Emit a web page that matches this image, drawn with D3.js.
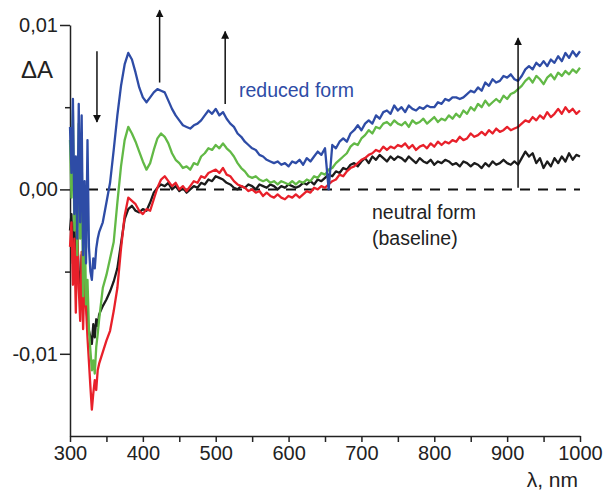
<!DOCTYPE html>
<html>
<head>
<meta charset="utf-8">
<script src="https://cdn.jsdelivr.net/npm/d3@7"></script>
<style>
  body { margin: 0; background: #fff; }
  svg { font-family: "Liberation Sans", Arial, sans-serif; }
</style>
</head>
<body>
<div id="chart"></div>
<script>
// wavelengths (nm)
var wl = [300,302,304,306,308,310,312,314,316,318,320,322,324,326,328,330,332,334,336,338,340,
  345,350,355,360,365,370,375,380,385,390,395,400,405,410,415,420,425,430,435,440,445,450,455,460,465,470,475,480,485,490,495,
  500,505,510,515,520,525,530,535,540,545,550,555,560,565,570,575,580,585,590,595,
  600,605,610,615,620,625,630,635,640,645,650,655,660,665,670,675,680,685,690,695,
  700,705,710,715,720,725,730,735,740,745,750,755,760,765,770,775,780,785,790,795,
  800,805,810,815,820,825,830,835,840,845,850,855,860,865,870,875,880,885,890,895,
  900,905,910,915,920,925,930,935,940,945,950,955,960,965,970,975,980,985,990,995,1000]

// delta A, units of 1e-3
var neutral = [-2.5,-1.5,-4.5,-2.0,-5.5,-3.0,-5.0,-6.5,-4.0,-7.0,-5.5,-6.8,-8.0,-8.6,-9.0,-9.4,-8.2,-9.0,-7.9,-8.3,-7.6,
  -7.1,-6.7,-6.2,-5.6,-4.8,-3.3,-1.8,-1.2,-1.0,-1.3,-1.4,-1.2,-1.3,-0.8,-0.2,0.1,0.3,0.2,0.4,0.0,0.2,-0.1,0.1,-0.2,0.0,0.2,0.1,0.4,0.3,0.6,0.5,
  0.8,0.7,0.6,0.4,0.3,0.1,0.0,0.2,0.1,0.3,0.2,0.0,0.3,0.2,0.1,0.3,0.2,0.0,0.2,0.1,
  0.3,0.2,0.1,0.2,0.4,0.3,0.5,0.3,0.6,0.5,0.7,0.9,0.8,1.1,1.0,1.3,1.2,1.5,1.6,1.4,
  1.7,1.9,1.6,2.0,1.8,2.1,1.9,1.7,2.0,1.8,2.0,1.9,1.7,2.0,1.8,1.6,1.9,1.7,1.6,1.8,
  1.5,1.7,1.6,1.8,1.7,1.5,1.6,1.4,1.7,1.6,1.4,1.6,1.5,1.3,1.6,1.4,1.7,1.5,1.6,1.8,
  1.6,1.5,1.7,1.5,1.9,2.3,2.0,2.2,1.6,1.9,1.3,1.7,1.4,1.9,1.6,2.0,1.7,2.2,1.8,2.1,2.0]

var step1 = [-3.5,-2.0,-5.8,-3.0,-7.5,-2.5,-6.0,-8.0,-3.8,-8.5,-5.0,-7.2,-9.0,-10.5,-12.0,-13.4,-12.4,-11.6,-12.2,-11.0,-10.6,
  -9.9,-9.2,-8.6,-7.4,-6.0,-3.6,-1.6,-0.5,-0.7,-0.9,-1.3,-1.5,-1.2,-1.3,-0.6,0.1,0.6,0.8,0.5,0.2,0.4,0.0,0.2,-0.1,0.2,0.5,0.4,0.8,0.7,1.0,1.1,
  1.2,1.0,1.3,0.9,0.8,0.5,0.3,0.2,0.1,-0.1,0.0,-0.2,-0.1,-0.4,-0.2,-0.4,-0.5,-0.3,-0.5,-0.6,
  -0.4,-0.5,-0.3,-0.5,-0.3,-0.1,-0.2,0.1,0.0,0.2,0.1,0.3,0.5,0.6,0.9,0.8,1.1,1.3,1.4,1.6,
  1.8,1.9,2.1,2.2,2.4,2.3,2.6,2.4,2.6,2.5,2.7,2.6,2.8,2.5,2.7,2.4,2.6,2.7,2.5,2.8,
  2.6,2.9,2.7,2.9,2.8,3.0,2.9,3.2,3.0,3.1,3.4,3.2,3.3,3.5,3.3,3.6,3.4,3.7,3.5,3.6,
  3.8,3.6,3.7,3.8,4.0,4.2,4.1,4.4,4.2,4.5,4.3,4.7,4.4,4.6,4.9,4.6,5.0,4.7,4.9,4.6,4.8]

var step2 = [3.0,-0.5,4.8,-2.5,1.5,-4.0,4.0,-3.0,2.5,-6.5,-1.0,-7.0,-5.5,-8.5,-9.8,-11.0,-10.4,-11.2,-9.6,-8.8,-7.9,
  -6.0,-5.2,-4.2,-3.2,-0.8,1.4,3.0,3.8,3.4,2.9,2.3,1.7,1.2,1.6,2.4,3.1,3.4,3.2,2.8,2.2,1.8,1.6,1.3,1.4,1.2,1.6,1.5,2.0,2.2,2.5,2.4,
  2.7,2.5,2.8,2.5,2.3,2.0,1.6,1.3,1.1,0.8,0.7,0.8,0.6,0.5,0.6,0.4,0.5,0.3,0.5,0.4,
  0.3,0.5,0.3,0.5,0.4,0.6,0.5,0.8,0.7,1.0,0.9,1.2,1.3,1.6,1.8,2.0,2.2,2.6,2.8,2.7,
  3.1,3.3,3.6,3.4,3.8,3.7,4.0,4.1,3.9,4.2,4.0,3.9,4.1,3.8,4.2,4.0,4.1,4.3,4.0,4.2,
  4.4,4.1,4.3,4.2,4.5,4.3,4.6,4.4,4.8,4.6,5.0,4.8,5.2,5.0,5.4,5.1,5.3,5.5,5.3,5.7,
  5.5,5.8,5.9,6.1,6.3,6.6,6.8,6.5,6.9,6.7,6.4,6.8,7.0,6.7,7.1,6.9,7.2,7.0,7.3,7.1,7.4]

var reduced = [3.8,1.0,5.5,-1.5,2.0,-3.0,5.2,-2.0,4.5,-4.0,0.5,-4.5,3.0,-3.5,-5.0,-5.5,-4.2,-4.8,-3.6,-3.0,-2.6,
  -2.0,-0.8,0.4,2.4,4.5,6.3,7.6,8.3,7.9,7.1,6.2,5.6,5.3,5.6,5.9,6.1,6.0,5.9,5.4,4.9,4.5,4.2,3.9,3.8,3.7,3.9,4.0,4.2,4.5,4.8,4.6,
  4.9,4.5,4.7,4.3,4.0,3.8,3.4,3.2,2.9,2.7,2.5,2.4,2.1,2.0,1.8,1.7,1.6,1.7,1.5,1.6,
  1.4,1.7,1.6,1.8,1.5,1.9,1.7,2.0,2.3,2.1,2.5,0.0,2.7,2.5,2.9,3.1,2.9,3.4,3.6,3.9,
  3.6,4.0,4.2,4.0,4.5,4.3,4.7,4.8,4.6,5.1,4.8,5.0,4.7,5.1,4.9,4.8,5.0,4.9,5.1,5.0,
  5.0,5.3,5.2,5.5,5.4,5.6,5.6,5.5,5.6,5.8,6.0,5.9,6.2,6.0,6.5,6.3,6.7,6.5,6.6,6.9,
  6.8,7.0,6.7,6.6,6.9,7.3,7.5,7.3,7.7,7.5,7.8,7.5,7.9,7.7,8.1,7.8,8.3,8.0,8.4,8.1,8.4]

var seriesNames = ["neutral", "step1", "step2", "reduced"]
var seriesValues = [neutral, step1, step2, reduced]
var seriesColors = ["#1c1c1c", "#e8202a", "#62b946", "#2e4ca6"]

var xMajor = [300,400,500,600,700,800,900,1000]
var xMinor = [350,450,550,650,750,850,950]
var yMajor = [-10, 0, 10]
var yMinor = [-5, 5]

// arrows: wavelength, from, to (1e-3)
var arrowNm = [337, 423, 513, 915]
var arrowFrom = [8.4, 6.5, 5.2, 0.1]
var arrowTo = [4.1, 10.9, 9.6, 9.2]

var width = 604, height = 490

var svg = d3.select("#chart").append("svg")
  .attr("width", width)
  .attr("height", height)

var x = d3.scaleLinear().domain([300, 1000]).range([70, 580])
var y = d3.scaleLinear().domain([-15, 10]).range([436, 25])

function fmt(d){
  return (d / 1000).toFixed(2).replace(".", ",")
}

// axes
var yAxis = svg.append("g")
  .attr("transform", "translate(" + x(300) + ",0)")
  .call(d3.axisLeft(y).tickValues(yMajor).tickSize(10).tickPadding(2).tickFormat(fmt).tickSizeOuter(0))
yAxis.append("g")
  .call(d3.axisLeft(y).tickValues(yMinor).tickSize(5).tickFormat("").tickSizeOuter(0))
  .select(".domain").remove()

var xAxis = svg.append("g")
  .attr("transform", "translate(0," + y(-15) + ")")
  .call(d3.axisBottom(x).tickValues(xMajor).tickSize(6).tickPadding(4).tickFormat(d3.format("d")).tickSizeOuter(0))
xAxis.append("g")
  .call(d3.axisBottom(x).tickValues(xMinor).tickSize(6).tickFormat("").tickSizeOuter(0))
  .select(".domain").remove()

svg.selectAll(".domain, .tick line")
  .attr("stroke", "#222")
  .attr("stroke-width", 1.5)
svg.selectAll(".tick text")
  .attr("fill", "#222")
  .style("font-size", "20px")

// baseline
svg.append("line")
  .attr("x1", x(300)).attr("x2", x(1000))
  .attr("y1", y(0)).attr("y2", y(0))
  .attr("stroke", "#111")
  .attr("stroke-width", 2)
  .attr("stroke-dasharray", "10,8")

// spectra
var line = d3.line()
  .x((d, i) => x(wl[i]))
  .y((d) => y(d))

svg.append("g").selectAll("path")
  .data(seriesValues)
  .enter()
    .append("path")
    .attr("d", line)
    .attr("fill", "none")
    .attr("stroke", (d, i) => seriesColors[i])
    .attr("stroke-width", 2.3)
    .attr("stroke-linejoin", "round")

// arrows
svg.append("defs").append("marker")
  .attr("id", "head")
  .attr("viewBox", "0 0 10 10")
  .attr("refX", 9).attr("refY", 5)
  .attr("markerWidth", 8).attr("markerHeight", 8)
  .attr("markerUnits", "userSpaceOnUse")
  .attr("orient", "auto")
  .append("path")
  .attr("d", "M0,0 L10,5 L0,10 Z")
  .attr("fill", "#111")

svg.append("g").selectAll("line")
  .data(arrowNm)
  .enter()
    .append("line")
    .attr("x1", (d) => x(d)).attr("x2", (d) => x(d))
    .attr("y1", (d, i) => y(arrowFrom[i]))
    .attr("y2", (d, i) => y(arrowTo[i]))
    .attr("stroke", "#111")
    .attr("stroke-width", 1.5)
    .attr("marker-end", "url(#head)")

// labels
svg.append("text")
  .attr("x", 21).attr("y", 78)
  .style("font-size", "24px")
  .attr("fill", "#222")
  .text("\u0394A")

svg.append("text")
  .attr("x", 578).attr("y", 487)
  .attr("text-anchor", "end")
  .style("font-size", "21px")
  .attr("fill", "#222")
  .text("\u03bb, nm")

svg.append("text")
  .attr("x", 239).attr("y", 97)
  .style("font-size", "19.5px")
  .attr("fill", "#2e4ca6")
  .text("reduced form")

svg.append("text")
  .attr("x", 372).attr("y", 219)
  .style("font-size", "19.5px")
  .attr("fill", "#222")
  .text("neutral form")

svg.append("text")
  .attr("x", 372).attr("y", 245)
  .style("font-size", "19.5px")
  .attr("fill", "#222")
  .text("(baseline)")
</script>
</body>
</html>
